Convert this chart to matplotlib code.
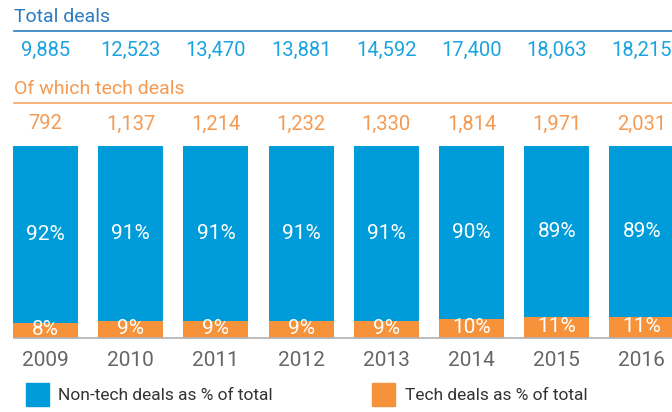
import numpy as np
from matplotlib import pyplot as plt

years = ['2009', '2010', '2011', '2012', '2013', '2014', '2015', '2016']
total_deals = ['9,885', '12,523', '13,470', '13,881', '14,592', '17,400', '18,063', '18,215']
tech_deals = ['792', '1,137', '1,214', '1,232', '1,330', '1,814', '1,971', '2,031']
tech_pct = [8, 9, 9, 9, 9, 10, 11, 11]
nontech_pct = [92, 91, 91, 91, 91, 90, 89, 89]

blue = '#009cd9'
orange = '#f5923a'

plt.rcParams['font.family'] = ['Roboto', 'DejaVu Sans']

fig = plt.figure(figsize=(6.72, 4.12), dpi=100)
ax = fig.add_axes([0, 1 - 338 / 412, 1, 192 / 412])

x = np.arange(len(years))
w = 0.765
ax.bar(x, tech_pct, width=w, color=orange)
ax.bar(x, nontech_pct, width=w, bottom=tech_pct, color=blue)

ax.set_xlim(-45.5 / 85.2, (672 - 45.5) / 85.2)
ax.set_ylim(0, 100)
ax.axis('off')

x0 = -0.37
xr = 8.0
# baseline
ax.plot([x0, xr], [0, 0], color='#b0b0b0', lw=1.2, clip_on=False)

for i in range(len(years)):
    ax.text(i, tech_pct[i] + nontech_pct[i] / 2, str(nontech_pct[i]) + '%',
            ha='center', va='center', color='white', fontsize=15)
    ax.text(i, tech_pct[i] / 2 + 0.5, str(tech_pct[i]) + '%',
            ha='center', va='center', color='white', fontsize=15)
    ax.text(i, -11.5, years[i], ha='center', va='center', color='#666666',
            fontsize=15, clip_on=False)
    ax.text(i, 150, total_deals[i], ha='center', va='center', color='#1ba3e0',
            fontsize=14.5, clip_on=False)
    ax.text(i, 111.5, tech_deals[i], ha='center', va='center', color='#f59a52',
            fontsize=14.5, clip_on=False)

# header rows
ax.text(x0, 167, 'Total deals', ha='left', va='center', color='#2a7bc0',
        fontsize=14, clip_on=False)
ax.plot([x0, xr], [160, 160], color='#2a7bc0', lw=1.2, clip_on=False)
ax.text(x0, 129.5, 'Of which tech deals', ha='left', va='center', color='#f59a52',
        fontsize=14, clip_on=False)
ax.plot([x0, xr], [122.4, 122.4], color='#f7a566', lw=1.2, clip_on=False)

# legend
fig.patches.append(plt.Rectangle((26 / 672, 1 - 406 / 412), 23 / 672, 23 / 412,
                                 transform=fig.transFigure, color=blue))
fig.text(58 / 672, 1 - 396 / 412, 'Non-tech deals as % of total', ha='left', va='center',
         color='#333333', fontsize=12.5)
fig.patches.append(plt.Rectangle((372 / 672, 1 - 406 / 412), 23 / 672, 23 / 412,
                                 transform=fig.transFigure, color=orange))
fig.text(405 / 672, 1 - 396 / 412, 'Tech deals as % of total', ha='left', va='center',
         color='#333333', fontsize=12.5)

plt.savefig('out.png', dpi=100)
